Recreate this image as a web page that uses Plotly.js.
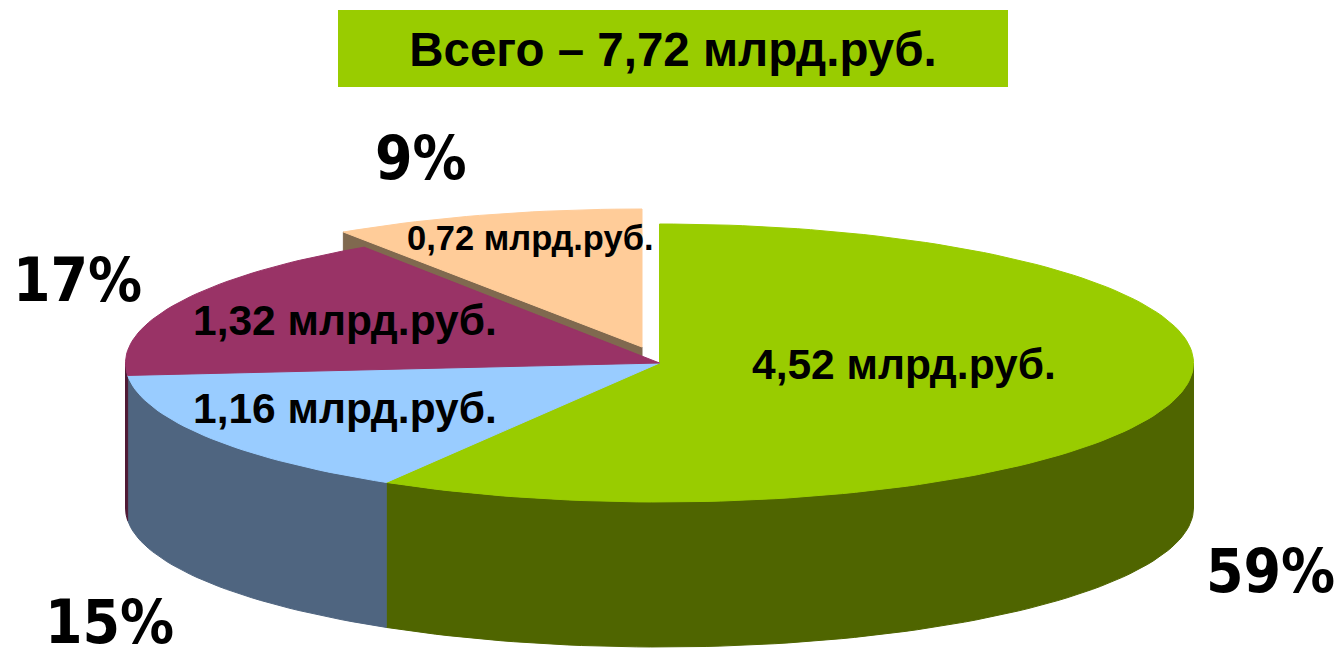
<!DOCTYPE html>
<html>
<head>
<meta charset="utf-8">
<script src="https://cdn.plot.ly/plotly-3.0.1.min.js"></script>
<style>html,body{margin:0;padding:0;background:#fff}#chart{width:1339px;height:658px}</style>
</head>
<body>
<div id="chart"></div>
<script>
// Data
var totalLabel = "Всего – 7,72 млрд.руб.";
var categories = ["green", "blue", "purple", "orange"];
var valueLabels = ["4,52 млрд.руб.", "1,16 млрд.руб.", "1,32 млрд.руб.", "0,72 млрд.руб."];
var values = [4.52, 1.16, 1.32, 0.72];
var percentLabels = ["59%", "15%", "17%", "9%"];

// Styling
var topColors = ["#99CC00", "#99CCFF", "#993366", "#FFCC99"];
var sideColors = ["#4F6500", "#4F6580", "#501A35", "#80694F"];
var valuePos = [[904, 364], [345, 408], [345, 320], [530, 238]];
var valueSize = [42.5, 42.5, 42.5, 34.5];
var percentPos = [[1270, 571], [109, 622], [77, 280], [421, 158]];

var pie = {cx: 659.5, cy: 363, rx: 534, ry: 139, depth: 145};
var explodedPie = {cx: 642, cy: 347, rx: 540, ry: 138, depth: 145};

function pt(g, t, drop) {
  var a = t * Math.PI / 180;
  return [g.cx + g.rx * Math.sin(a), g.cy - g.ry * Math.cos(a) + (drop || 0)];
}
function arc(g, t0, t1, drop) {
  var pts = [], n = Math.max(2, Math.ceil(Math.abs(t1 - t0) / 1.5));
  for (var i = 0; i <= n; i++) pts.push(pt(g, t0 + (t1 - t0) * i / n, drop));
  return pts;
}
function polyTrace(name, pts, color) {
  return {
    type: "scatter", mode: "lines", name: name, hoverinfo: "skip", showlegend: false,
    x: pts.map(function (p) { return p[0]; }).concat([pts[0][0]]),
    y: pts.map(function (p) { return p[1]; }).concat([pts[0][1]]),
    fill: "toself", fillcolor: color, line: {color: color, width: 1}
  };
}

var total = values.reduce(function (a, b) { return a + b; }, 0);
var starts = [], acc = 0;
values.forEach(function (v) { starts.push(acc / total * 360); acc += v; });
var ends = starts.map(function (s, i) { return s + values[i] / total * 360; });

var traces = [];

// Side wall of the pulled-out slice (largely hidden by the purple top)
var oCut = pt(explodedPie, starts[3]), oTip = [explodedPie.cx, explodedPie.cy];
traces.push(polyTrace("orange side", [
  oCut, oTip,
  [oTip[0], oTip[1] + explodedPie.depth],
  [oCut[0], oCut[1] + explodedPie.depth]
], sideColors[3]));

// Front walls
[[0, 90, ends[0]], [1, starts[1], ends[1]], [2, starts[2], 270]].forEach(function (s) {
  var i = s[0];
  var upper = arc(pie, s[1], s[2], 0);
  var lower = arc(pie, s[2], s[1], pie.depth);
  traces.push(polyTrace(categories[i] + " side", upper.concat(lower), sideColors[i]));
});

// Top faces
[0, 1, 2].forEach(function (i) {
  traces.push(polyTrace(categories[i], [[pie.cx, pie.cy]].concat(arc(pie, starts[i], ends[i], 0)), topColors[i]));
});
traces.push(polyTrace(categories[3], [oTip].concat(arc(explodedPie, starts[3], ends[3], 0)), topColors[3]));

var annotations = [];
valueLabels.forEach(function (txt, i) {
  annotations.push({
    text: txt, x: valuePos[i][0], y: valuePos[i][1], xref: "x", yref: "y",
    xanchor: "center", yanchor: "middle", showarrow: false,
    font: {family: "Liberation Sans, Arial, sans-serif", size: valueSize[i], color: "#000", weight: 700}
  });
});
percentLabels.forEach(function (txt, i) {
  annotations.push({
    text: txt, x: percentPos[i][0], y: percentPos[i][1], xref: "x", yref: "y",
    xanchor: "center", yanchor: "middle", showarrow: false,
    font: {family: "DejaVu Sans Condensed, DejaVu Sans, sans-serif", size: 60, color: "#000", weight: 700}
  });
});

var layout = {
  width: 1339, height: 658,
  margin: {l: 0, r: 0, t: 0, b: 0},
  paper_bgcolor: "#fff", plot_bgcolor: "#fff",
  showlegend: false,
  title: {
    text: totalLabel, x: 673 / 1339, xref: "paper", xanchor: "center",
    y: 1 - 49 / 658, yref: "paper", yanchor: "middle",
    font: {family: "Liberation Sans, Arial, sans-serif", size: 47.5, color: "#000", weight: 700}
  },
  xaxis: {range: [0, 1339], visible: false, fixedrange: true},
  yaxis: {range: [658, 0], visible: false, fixedrange: true},
  shapes: [{type: "rect", xref: "x", yref: "y", x0: 338, x1: 1008, y0: 10, y1: 87,
            fillcolor: "#99CC00", line: {width: 0}, layer: "below"}],
  annotations: annotations
};
Plotly.newPlot("chart", traces, layout, {staticPlot: true, displayModeBar: false});
</script>
</body>
</html>
